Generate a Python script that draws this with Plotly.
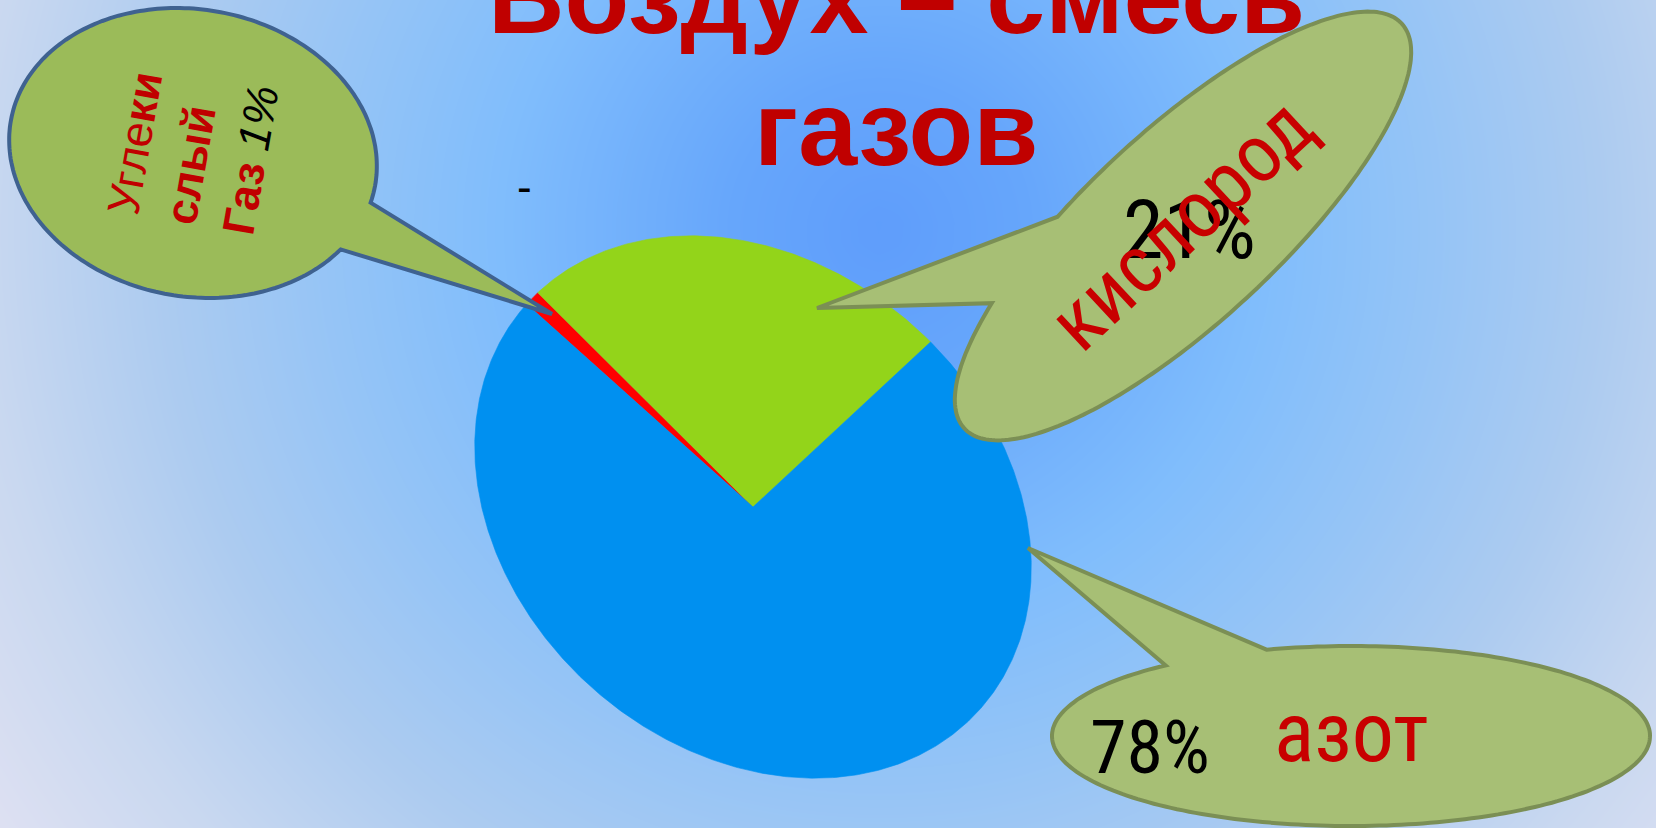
import numpy as np
import plotly.graph_objects as go

W, H = 1656, 828

# ---------------- data ----------------
labels = ["Углекислый газ", "Кислород", "Азот"]
values = [1, 21, 78]
slice_colors = ["#ff0000", "#93d41a", "#0090f0"]

title_line1 = "Воздух – смесь"
title_line2 = "газов"

# ---------------- styling / layout constants ----------------
RED = "#c00000"
PIE_CX, PIE_CY = 753, 507          # pie centre (px)
PIE_A, PIE_B = 304, 242            # semi axes of the tilted pie
PIE_PHI = 41.7                     # tilt of the major axis (deg)
PIE_START = -172.25                # start angle (deg, clockwise from 3 o'clock)
PERSP = 7.59                       # perspective warp amplitude (deg)
PERSP_MID = -130.85                # direction facing the viewer (deg)

BG_CX, BG_CY = 880, 230
bg_scale = [[0.0, "#5f9dfb"], [0.14, "#66a6fb"], [0.36, "#80bdfc"],
            [0.52, "#95c4f6"], [0.68, "#accbf0"], [0.85, "#c9d8f0"],
            [1.0, "#dde0f2"]]

fig = go.Figure()

# background radial gradient
gx = np.linspace(0, W, 84)
gy = np.linspace(0, H, 42)
GX, GY = np.meshgrid(gx, gy)
GZ = np.hypot(GX - BG_CX, GY - BG_CY)
fig.add_trace(go.Heatmap(x=gx, y=gy, z=GZ, zmin=0, zmax=1060, colorscale=bg_scale,
                         showscale=False, zsmooth="best", hoverinfo="skip"))


def ellipse_xy(cx, cy, a, b, phi_deg, ang_deg):
    t = np.radians(ang_deg)
    p = np.radians(phi_deg)
    ex, ey = a * np.cos(t), b * np.sin(t)
    return cx + ex * np.cos(p) - ey * np.sin(p), cy + ex * np.sin(p) + ey * np.cos(p)


# pie slices (tilted / perspective pie)
total = float(sum(values))
cum = PIE_START
for lab, val, col in zip(labels, values, slice_colors):
    span = val / total * 360.0
    t = np.linspace(cum, cum + span, max(8, int(span * 2)))
    tau = t + PERSP * np.sin(np.radians(2 * (t - PERSP_MID)))
    xs, ys = ellipse_xy(PIE_CX, PIE_CY, PIE_A, PIE_B, PIE_PHI, tau)
    fig.add_trace(go.Scatter(x=np.r_[PIE_CX, xs, PIE_CX], y=np.r_[PIE_CY, ys, PIE_CY],
                             mode="lines", fill="toself", fillcolor=col,
                             line=dict(color=col, width=0.6), name=lab,
                             hoverinfo="text", text=f"{lab}: {val}%"))
    cum += span


def bubble_path(cx, cy, a, b, phi, gap_from, gap_to, tip):
    ang = np.linspace(gap_to, gap_from + 360, 240)
    xs, ys = ellipse_xy(cx, cy, a, b, phi, ang)
    pts = " L".join(f"{x:.1f},{y:.1f}" for x, y in zip(xs, ys))
    return f"M{pts} L{tip[0]},{tip[1]} Z"


shapes = [
    dict(type="path", xref="x", yref="y", layer="above",
         path=bubble_path(193, 153, 185, 143.5, 10.2, 7.0, 28.6, (552, 314)),
         fillcolor="#9bbb59", line=dict(color="#3f6290", width=4)),
    dict(type="path", xref="x", yref="y", layer="above",
         path=bubble_path(1183, 226, 298, 96, -42.8, 229.7, 253.3, (817, 308)),
         fillcolor="#a7bf75", line=dict(color="#7b8f55", width=4)),
    dict(type="path", xref="x", yref="y", layer="above",
         path=bubble_path(1351, 736, 299, 90, 0.0, 231.7, 253.6, (1028, 548)),
         fillcolor="#a7bf75", line=dict(color="#7b8f55", width=4)),
]

NARROW = "Liberation Sans Narrow, Arial Narrow, Roboto Condensed, Roboto, sans-serif"
ARIAL = "Liberation Sans, Arial, sans-serif"

annotations = [
    dict(x=896, y=1 + 4 / H, yref="paper",
         text=f"<b>{title_line1}</b>", font=dict(family=ARIAL, size=106, color=RED)),
    dict(x=896, y=128, text=f"<b>{title_line2}</b>", font=dict(family=ARIAL, size=106, color=RED)),
    dict(x=524, y=186, text="-", font=dict(family=ARIAL, size=44, color="black")),
    dict(x=193, y=150, textangle=-80, align="left",
         text=("Угле<b>ки</b><br><b>слый</b><br><b>Газ</b> "
               "<span style='color:black'><i>1%</i></span>"),
         font=dict(family=ARIAL, size=45, color=RED)),
    dict(x=1189, y=230, text=f"{values[1]}%", font=dict(family=NARROW, size=82, color="black")),
    dict(x=1181, y=224, textangle=-43, text=labels[1].lower(),
         font=dict(family=NARROW, size=82, color="#c80000")),
    dict(x=1150, y=747, text=f"{values[2]}%", font=dict(family=NARROW, size=74, color="black")),
    dict(x=1351, y=732, text=labels[2].lower(), font=dict(family=NARROW, size=84, color="#c80000")),
]
for an in annotations:
    an.setdefault("yref", "y")
    an.update(xref="x", showarrow=False, xanchor="center", yanchor="middle")

fig.update_layout(
    width=W, height=H, margin=dict(l=0, r=0, t=0, b=0),
    showlegend=False, paper_bgcolor="#9cc6f4", plot_bgcolor="#9cc6f4",
    xaxis=dict(range=[0, W], visible=False, fixedrange=True),
    yaxis=dict(range=[H, 0], visible=False, fixedrange=True),
    shapes=shapes, annotations=annotations,
)

fig.write_html("out.html", config={"displayModeBar": False},
               post_script="document.body.style.margin='0px';document.body.style.overflow='hidden';")
